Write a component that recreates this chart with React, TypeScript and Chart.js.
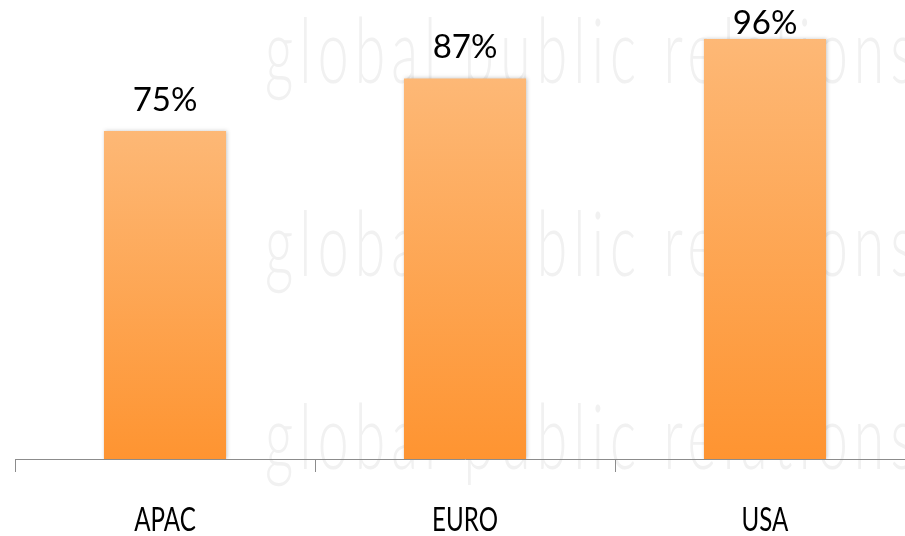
import React, { useEffect, useRef } from "react";
import { Chart, registerables } from "chart.js";

Chart.register(...registerables);

const categories = ["APAC", "EURO", "USA"];
const values = [75, 87, 96];
const valueLabels = ["75%", "87%", "96%"];
const watermarkText = "global public relations";

const GRAD_TOP = "#FDB876";
const GRAD_BOTTOM = "#FE9431";

const watermarkPlugin = {
  id: "watermark",
  beforeDraw(chart: any) {
    const ctx = chart.ctx as CanvasRenderingContext2D;
    ctx.save();
    ctx.fillStyle = "#ffffff";
    ctx.fillRect(0, 0, chart.width, chart.height);
    ctx.font = "300 90px Lato";
    (ctx as any).letterSpacing = "10px";
    ctx.fillStyle = "#f1f1f1";
    ctx.textAlign = "left";
    ctx.textBaseline = "alphabetic";
    const w = ctx.measureText(watermarkText).width;
    const sx = 655 / w;
    [83, 276, 469].forEach((base) => {
      ctx.save();
      ctx.translate(265, base);
      ctx.scale(sx, 1);
      ctx.fillText(watermarkText, 0, 0);
      ctx.restore();
    });
    ctx.restore();
  },
};

const shadowPlugin = {
  id: "barShadow",
  beforeDatasetsDraw(chart: any) {
    const ctx = chart.ctx as CanvasRenderingContext2D;
    ctx.save();
    ctx.shadowColor = "rgba(0,0,0,0.22)";
    ctx.shadowBlur = 4;
    ctx.shadowOffsetX = 1;
    ctx.shadowOffsetY = 0;
  },
  afterDatasetsDraw(chart: any) {
    chart.ctx.restore();
  },
};

const labelsPlugin = {
  id: "labels",
  afterDraw(chart: any) {
    const ctx = chart.ctx as CanvasRenderingContext2D;
    const meta = chart.getDatasetMeta(0);
    const xs = chart.scales.x;
    const bottom = chart.chartArea.bottom;
    ctx.save();
    ctx.fillStyle = "#000000";
    ctx.textAlign = "center";
    ctx.textBaseline = "alphabetic";
    ctx.font = "33px Lato";
    meta.data.forEach((bar: any, i: number) => {
      const y = Math.max(bar.y - 20, 34);
      ctx.fillText(valueLabels[i], bar.x, y);
    });
    categories.forEach((c, i) => {
      const x = xs.getPixelForValue(i);
      ctx.save();
      ctx.translate(x, bottom + 72);
      ctx.scale(0.73, 1);
      ctx.fillText(c, 0, 0);
      ctx.restore();
    });
    ctx.restore();
  },
};

export default function App() {
  const ref = useRef<HTMLCanvasElement | null>(null);

  useEffect(() => {
    if (!ref.current) return;
    const chart = new Chart(ref.current, {
      type: "bar",
      data: {
        labels: categories,
        datasets: [
          {
            data: values,
            backgroundColor: (c: any) => {
              const ch = c.chart;
              const ys = ch.scales && ch.scales.y;
              if (!ys || c.raw === undefined) return GRAD_BOTTOM;
              const top = ys.getPixelForValue(c.raw);
              const bot = ys.getPixelForValue(0);
              if (!isFinite(top) || !isFinite(bot)) return GRAD_BOTTOM;
              const g = ch.ctx.createLinearGradient(0, top, 0, bot);
              g.addColorStop(0, GRAD_TOP);
              g.addColorStop(1, GRAD_BOTTOM);
              return g;
            },
            borderWidth: 0,
            categoryPercentage: 1,
            barPercentage: 0.407,
          },
        ],
      },
      options: {
        responsive: false,
        animation: false,
        devicePixelRatio: 1,
        layout: { padding: { left: 15, right: 5, top: 21.5, bottom: 64 } },
        plugins: { legend: { display: false }, tooltip: { enabled: false } },
        scales: {
          x: {
            grid: {
              display: true,
              drawOnChartArea: false,
              drawTicks: true,
              tickLength: 13,
              color: "#8c8c8c",
              lineWidth: 1,
              offset: true,
            },
            border: { display: true, color: "#8c8c8c", width: 1 },
            ticks: { display: false },
          },
          y: { display: false, min: 0, max: 100 },
        },
      },
      plugins: [watermarkPlugin, shadowPlugin, labelsPlugin],
    });
    return () => chart.destroy();
  }, []);

  return (
    <div
      style={{
        position: "fixed",
        left: 0,
        top: 0,
        width: 905,
        height: 536,
        overflow: "hidden",
        background: "#ffffff",
      }}
    >
      <canvas ref={ref} width={920} height={536} style={{ display: "block" }} />
    </div>
  );
}
